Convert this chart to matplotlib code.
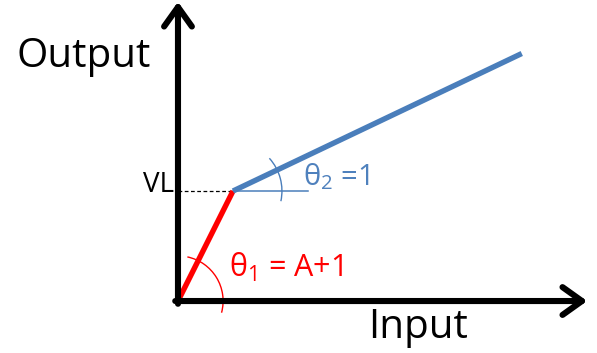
from __future__ import annotations

import matplotlib

matplotlib.use("Agg")
import matplotlib.pyplot as plt
from matplotlib.patches import Arc

# piecewise response: gain A+1 up to the knee (VL), then slope 1
INPUT_VALUES = [0.0, 1.0, 6.25]
OUTPUT_VALUES = [0.0, 2.0, 4.5]
KNEE_LABEL = "VL"
AXIS_LABELS = ["Input", "Output"]
ANGLE_LABELS = [r"$\mathrm{\theta_1}$ = A+1", r"$\mathrm{\theta_2}$ =1"]

RED = "#FF0000"
BLUE = "#4A7EBB"
BLUE_TEXT = "#4F81BD"

plt.rcParams["font.family"] = ["Open Sans", "DejaVu Sans"]
plt.rcParams["mathtext.fontset"] = "custom"
plt.rcParams["mathtext.rm"] = "Open Sans"
plt.rcParams["mathtext.it"] = "Open Sans:italic"


def _draw_axes(ax) -> None:
    arrow = dict(arrowstyle="->, head_length=0.7, head_width=0.5", lw=4.4,
                 color="black", shrinkA=0, shrinkB=0, mutation_scale=20)
    ax.annotate("", xy=(0, 5.44), xytext=(0, -0.05), arrowprops=arrow)
    ax.annotate("", xy=(7.44, 0), xytext=(-0.05, 0), arrowprops=arrow)
    ax.text(-2.93, 4.25, AXIS_LABELS[1], fontsize=29, va="baseline")
    ax.text(3.45, -0.67, AXIS_LABELS[0], fontsize=29, va="baseline")


def main() -> None:
    fig = plt.figure(figsize=(5.97, 3.53), dpi=100)
    ax = fig.add_axes([0, 0, 1, 1])
    ax.set_xlim(-3.236, 7.618)
    ax.set_ylim(-0.945, 5.473)
    ax.axis("off")

    _draw_axes(ax)

    knee_x, knee_y = INPUT_VALUES[1], OUTPUT_VALUES[1]

    # guides at the knee
    ax.plot([0, knee_x], [knee_y, knee_y], color="black", lw=0.9, ls=(0, (3, 2)))
    ax.plot([knee_x, knee_x + 1.36], [knee_y, knee_y], color=BLUE, lw=1.1)

    ax.plot(INPUT_VALUES[:2], OUTPUT_VALUES[:2], color=RED, lw=3.9, solid_capstyle="butt")
    ax.plot(INPUT_VALUES[1:], OUTPUT_VALUES[1:], color=BLUE, lw=3.9, solid_capstyle="butt")

    ax.add_patch(Arc((0, 0), 1.64, 1.64, theta1=-15, theta2=78, color=RED, lw=1.0))
    ax.add_patch(Arc((knee_x, knee_y), 1.78, 1.78, theta1=-12, theta2=42, color=BLUE, lw=1.0))

    ax.text(-0.08, 1.98, KNEE_LABEL, fontsize=20, ha="right", va="baseline")
    ax.text(0.93, 0.44, ANGLE_LABELS[0], fontsize=22, color=RED, va="baseline")
    ax.text(2.27, 2.11, ANGLE_LABELS[1], fontsize=21, color=BLUE_TEXT, va="baseline")

    fig.savefig("out.png", dpi=100)
    plt.close(fig)


if __name__ == "__main__":
    main()
